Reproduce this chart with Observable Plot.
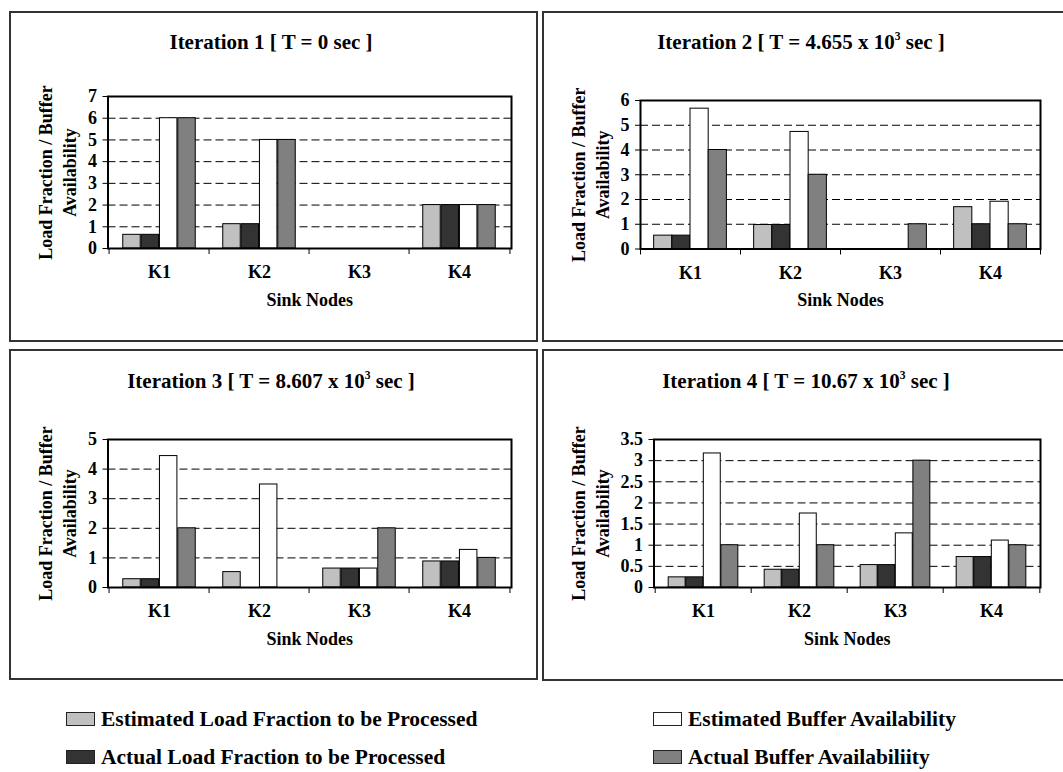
<!DOCTYPE html>
<html>
<head>
<meta charset="utf-8">
<script src="https://cdn.jsdelivr.net/npm/d3@7"></script>
<script src="https://cdn.jsdelivr.net/npm/@observablehq/plot@0.6"></script>
<style>
  html, body { margin: 0; padding: 0; background: #fff; }
  #page { position: relative; width: 1063px; height: 772px; overflow: hidden; background: #fff;
          font-family: "Liberation Serif", "Times New Roman", serif; font-weight: bold; color: #000; }
  .box { position: absolute; border: 2px solid #333; box-sizing: border-box; }
  .title { position: absolute; font-size: 21px; white-space: nowrap; transform: translateX(-50%); line-height: 1; }
  .title sup { font-size: 0.55em; vertical-align: 0.75em; line-height: 0; }
  .chart { position: absolute; }
  .legend-item { position: absolute; display: flex; align-items: center; font-size: 21.5px; white-space: nowrap; }
  .swatch { width: 29px; height: 14px; border: 1px solid #222; box-sizing: border-box; margin-right: 6px; }
</style>
</head>
<body>
<div id="page"></div>
<script>
// Sink nodes on the x axis
const sinkNodes = ["K1", "K2", "K3", "K4"];

// The four quantities shown for every node
const seriesNames = [
  "Estimated Load Fraction to be Processed",
  "Actual Load Fraction to be Processed",
  "Estimated Buffer Availability",
  "Actual Buffer Availabiliity"
];
const seriesColors = ["#c0c0c0", "#333333", "#ffffff", "#808080"];

// Iteration 1 [T = 0 s]
const it1EstLoad = [0.63, 1.12, 0, 2];
const it1ActLoad = [0.63, 1.12, 0, 2];
const it1EstBuf  = [6, 5, 0, 2];
const it1ActBuf  = [6, 5, 0, 2];

// Iteration 2 [T = 4.655e3 s]
const it2EstLoad = [0.54, 0.97, 0, 1.69];
const it2ActLoad = [0.54, 0.97, 0, 1];
const it2EstBuf  = [5.67, 4.73, 0, 1.91];
const it2ActBuf  = [4, 3, 1, 1];

// Iteration 3 [T = 8.607e3 s]
const it3EstLoad = [0.28, 0.52, 0.64, 0.88];
const it3ActLoad = [0.28, 0, 0.64, 0.88];
const it3EstBuf  = [4.44, 3.48, 0.64, 1.27];
const it3ActBuf  = [2, 0, 2, 1];

// Iteration 4 [T = 10.67e3 s]
const it4EstLoad = [0.24, 0.42, 0.53, 0.72];
const it4ActLoad = [0.24, 0.42, 0.53, 0.72];
const it4EstBuf  = [3.17, 1.75, 1.28, 1.11];
const it4ActBuf  = [1, 1, 3, 1];

// Titles and y-axis ticks of each iteration
const iterationTitles = [
  "Iteration 1 [ T = 0 sec ]",
  "Iteration 2 [ T = 4.655 x 10<sup>3</sup> sec ]",
  "Iteration 3 [ T = 8.607 x 10<sup>3</sup> sec ]",
  "Iteration 4 [ T = 10.67 x 10<sup>3</sup> sec ]"
];
const yTicks1 = [0, 1, 2, 3, 4, 5, 6, 7];
const yTicks2 = [0, 1, 2, 3, 4, 5, 6];
const yTicks3 = [0, 1, 2, 3, 4, 5];
const yTicks4 = [0, 0.5, 1, 1.5, 2, 2.5, 3, 3.5];

const yLabel = "Load Fraction / Buffer\nAvailability";
const xLabel = "Sink Nodes";

// Panel layout (page pixels): outer box and plot frame
const layouts = [
  { box: [9, 11, 529, 331],  frame: { l: 107.5, r: 511, t: 96,   b: 248 },   titleX: 271, titleY: 32 },
  { box: [542, 11, 530, 331], frame: { l: 640,   r: 1040, t: 99.5, b: 248 },  titleX: 801, titleY: 32 },
  { box: [9, 349, 529, 331], frame: { l: 107.5, r: 511, t: 438.5, b: 586.5 }, titleX: 271, titleY: 371 },
  { box: [542, 349, 530, 332], frame: { l: 653.5, r: 1040, t: 438.5, b: 586.5 }, titleX: 806, titleY: 371 }
];
const yLabelInset = 47;   // centre of the two-line y label, from the panel's left edge

const iterations = [
  [it1EstLoad, it1ActLoad, it1EstBuf, it1ActBuf],
  [it2EstLoad, it2ActLoad, it2EstBuf, it2ActBuf],
  [it3EstLoad, it3ActLoad, it3EstBuf, it3ActBuf],
  [it4EstLoad, it4ActLoad, it4EstBuf, it4ActBuf]
];
const yTickSets = [yTicks1, yTicks2, yTicks3, yTicks4];

const page = document.getElementById("page");

iterations.forEach((seriesValues, k) => {
  const L = layouts[k];
  const box = document.createElement("div");
  box.className = "box";
  Object.assign(box.style, { left: L.box[0] + "px", top: L.box[1] + "px", width: L.box[2] + "px", height: L.box[3] + "px" });
  page.appendChild(box);

  const title = document.createElement("div");
  title.className = "title";
  title.innerHTML = iterationTitles[k];
  Object.assign(title.style, { left: L.titleX + "px", top: L.titleY + "px" });
  page.appendChild(title);

  // long-format rows for this iteration
  const rows = [];
  seriesValues.forEach((vals, s) => vals.forEach((v, i) => rows.push({ node: sinkNodes[i], series: s, value: v })));

  const ticks = yTickSets[k];
  const svgLeft = L.box[0] + 3;
  const svgTop = L.frame.t - 30;
  const marginLeft = L.frame.l - svgLeft;
  const marginRight = 15;
  const marginTop = 30;
  const marginBottom = 75;
  const width = L.frame.r + marginRight - svgLeft;
  const height = L.frame.b + marginBottom - svgTop;
  const plotW = L.frame.r - L.frame.l;
  const plotH = L.frame.b - L.frame.t;
  const bw = plotW / sinkNodes.length;       // band per node
  const barW = bw / 5.5;                     // four bars plus a 150% gap

  const bars = seriesNames.map((name, s) => Plot.barY(rows.filter(d => d.series === s && d.value > 0), {
    x: "node", y: "value",
    fill: seriesColors[s], stroke: "#000", strokeWidth: 1,
    insetLeft: (0.75 + s) * barW,
    insetRight: (3.75 - s) * barW
  }));

  const chart = Plot.plot({
    width, height, marginLeft, marginRight, marginTop, marginBottom,
    style: { fontFamily: "'Liberation Serif', 'Times New Roman', serif", fontSize: "18px", fontWeight: "bold", color: "#000", background: "transparent", overflow: "visible" },
    x: { type: "band", domain: sinkNodes, padding: 0, label: null },
    y: { domain: [ticks[0], ticks[ticks.length - 1]], label: null },
    marks: [
      Plot.gridY(ticks.slice(1, -1), { stroke: "#000", strokeOpacity: 1, strokeWidth: 1, strokeDasharray: "8,4" }),
      ...bars,
      Plot.frame({ stroke: "#000", strokeWidth: 2 }),
      Plot.axisY(ticks, { tickSize: 5, tickPadding: 6, tickFormat: d => String(d), label: null, fontSize: 18 }),
      Plot.axisX({ tickSize: 0, tickPadding: 17, label: null, fontSize: 18 }),
      // tick marks on the node boundaries
      Plot.ruleX(sinkNodes, { x: d => d, dx: -bw / 2, insetTop: plotH, insetBottom: -6, stroke: "#000" }),
      Plot.ruleX(sinkNodes.slice(-1), { x: d => d, dx: bw / 2, insetTop: plotH, insetBottom: -6, stroke: "#000" }),
      Plot.text([yLabel], {
        frameAnchor: "left", textAnchor: "middle", lineAnchor: "middle", rotate: -90,
        dx: L.box[0] + yLabelInset - L.frame.l, lineHeight: 1.3, fontSize: 18
      }),
      Plot.text([xLabel], { frameAnchor: "bottom", dy: 57, fontSize: 18 })
    ]
  });
  chart.classList.add("chart");
  Object.assign(chart.style, { left: svgLeft + "px", top: svgTop + "px" });
  page.appendChild(chart);
});

// Legend in two columns below the panels
const legendPos = [[66, 719], [66, 757], [653, 719], [653, 757]];
seriesNames.forEach((name, s) => {
  const item = document.createElement("div");
  item.className = "legend-item";
  Object.assign(item.style, { left: legendPos[s][0] + "px", top: (legendPos[s][1] - 13) + "px", height: "26px" });
  const sw = document.createElement("div");
  sw.className = "swatch";
  sw.style.background = seriesColors[s];
  item.appendChild(sw);
  const t = document.createElement("span");
  t.textContent = name;
  item.appendChild(t);
  page.appendChild(item);
});
</script>
</body>
</html>
